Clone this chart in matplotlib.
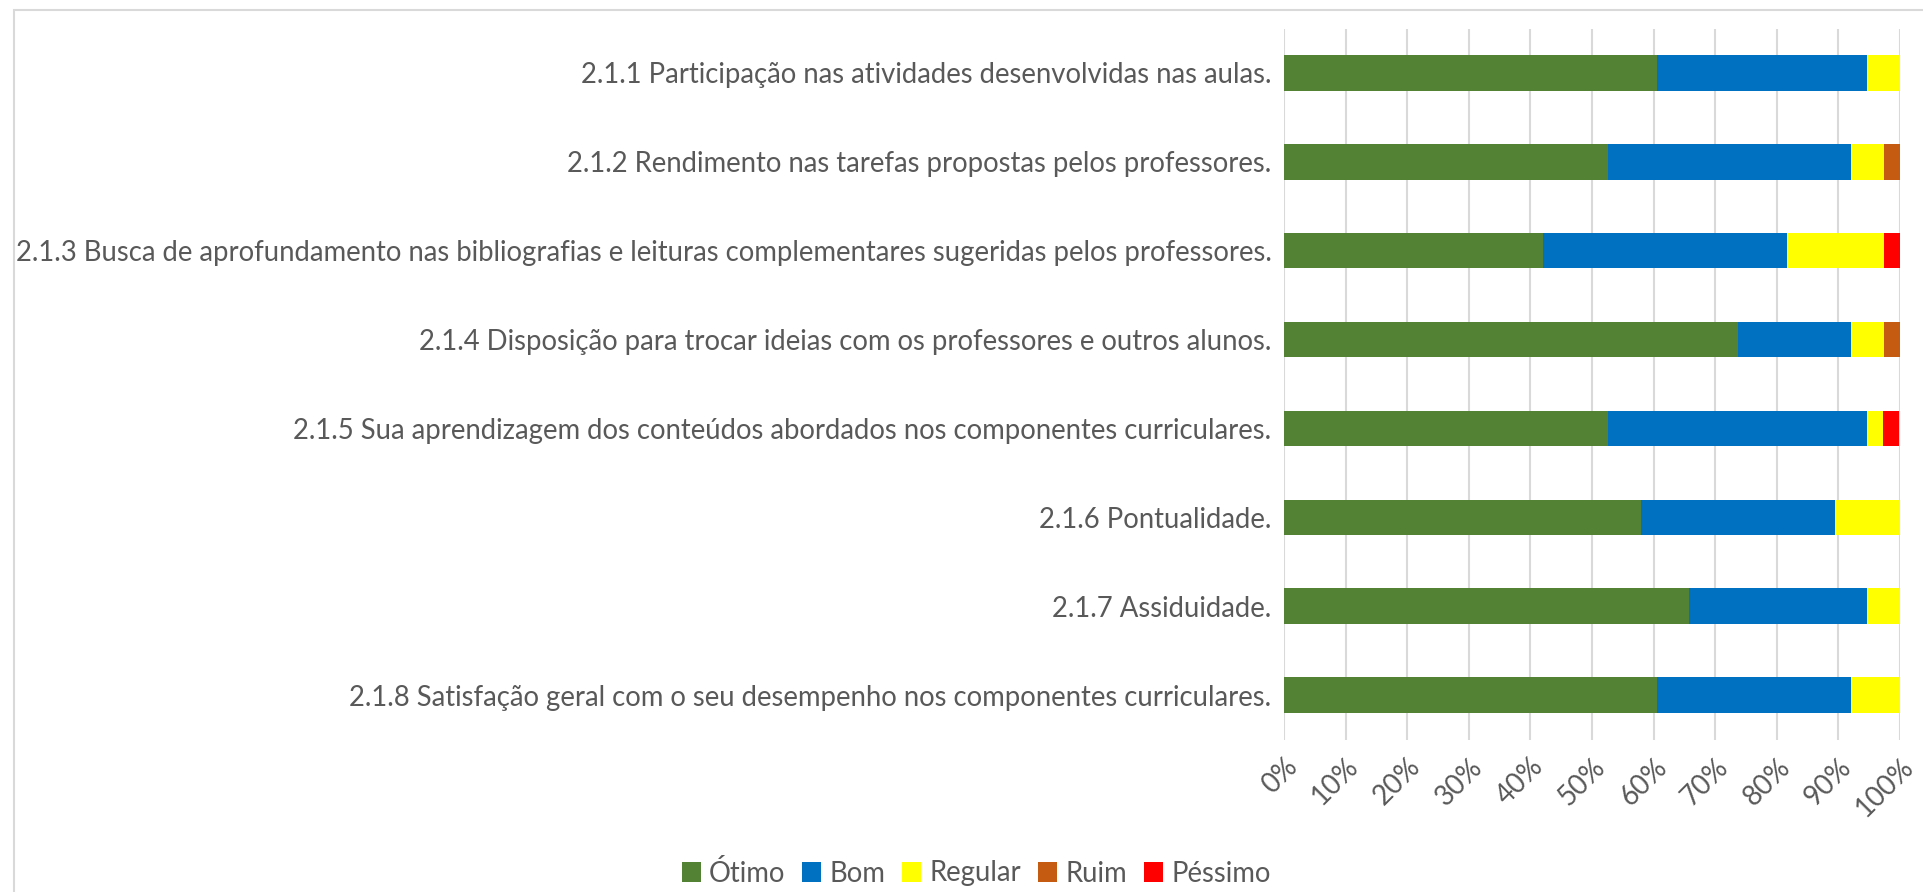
import matplotlib.pyplot as plt
import numpy as np
from matplotlib.patches import Rectangle
from matplotlib.ticker import PercentFormatter

# Itens avaliados (de cima para baixo)
categorias = [
    '2.1.1 Participação nas atividades desenvolvidas nas aulas.',
    '2.1.2 Rendimento nas tarefas propostas pelos professores.',
    '2.1.3 Busca de aprofundamento nas bibliografias e leituras complementares sugeridas pelos professores.',
    '2.1.4 Disposição para trocar ideias com os professores e outros alunos.',
    '2.1.5 Sua aprendizagem dos conteúdos abordados nos componentes curriculares.',
    '2.1.6 Pontualidade.',
    '2.1.7 Assiduidade.',
    '2.1.8 Satisfação geral com o seu desempenho nos componentes curriculares.',
]

# percentuais por resposta
otimo = [60.5, 52.6, 42.1, 73.7, 52.6, 57.9, 65.8, 60.5]
bom = [34.2, 39.5, 39.5, 18.4, 42.1, 31.6, 28.9, 31.6]
regular = [5.3, 5.3, 15.8, 5.3, 2.6, 10.5, 5.3, 7.9]
ruim = [0.0, 2.6, 0.0, 2.6, 0.0, 0.0, 0.0, 0.0]
pessimo = [0.0, 0.0, 2.6, 0.0, 2.6, 0.0, 0.0, 0.0]

series = ['Ótimo', 'Bom', 'Regular', 'Ruim', 'Péssimo']
cores = ['#548235', '#0070C0', '#FFFF00', '#C55A11', '#FF0000']

plt.rcParams['font.family'] = ['Lato', 'DejaVu Sans']
texto_cor = '#595959'
fs = 19.85

fig = plt.figure(figsize=(19.23, 8.92), dpi=100)
ax = fig.add_axes([1284 / 1923, 1 - 739.5 / 892, (1900 - 1284) / 1923, (739.5 - 28.5) / 892])

y = np.arange(len(categorias))
left = np.zeros(len(categorias))
for nome, vals, cor in zip(series, [otimo, bom, regular, ruim, pessimo], cores):
    ax.barh(y, vals, left=left, height=0.4, color=cor, label=nome, zorder=3)
    left = left + np.array(vals)

ax.set_ylim(len(categorias) - 0.5, -0.5)
ax.set_xlim(0, 100)
ax.set_yticks(y)
ax.set_yticklabels(categorias, fontsize=fs, color=texto_cor)
ax.set_xticks(np.arange(0, 101, 10))
ax.xaxis.set_major_formatter(PercentFormatter(decimals=0))
for lbl in ax.get_xticklabels():
    lbl.set_rotation(45)
    lbl.set_ha('right')
    lbl.set_rotation_mode('anchor')
    lbl.set_fontsize(fs)
    lbl.set_color(texto_cor)
ax.tick_params(axis='both', length=0)
ax.tick_params(axis='y', pad=9)
ax.tick_params(axis='x', pad=10)
ax.grid(axis='x', color='#D9D9D9', linewidth=1.5, zorder=0)
for s in ax.spines.values():
    s.set_visible(False)

fig.legend(loc='center', bbox_to_anchor=(976 / 1923, 1 - 873 / 892), ncol=5,
           frameon=False, fontsize=fs, handlelength=0.7, handleheight=0.7,
           handletextpad=0.3, columnspacing=0.6, labelcolor=texto_cor)

# moldura do gráfico
fig.patches.append(Rectangle((14 / 1923, -0.1), 1.2, 1 - 10 / 892 + 0.1, transform=fig.transFigure,
                             fill=False, edgecolor='#D9D9D9', linewidth=1.5))

fig.savefig('out.png', dpi=100)
